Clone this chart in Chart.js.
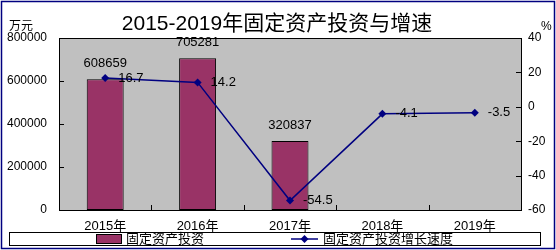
<!DOCTYPE html>
<html>
<head>
<meta charset="utf-8">
<script src="https://cdn.jsdelivr.net/npm/chart.js@4/dist/chart.umd.min.js"></script>
<style>
  html, body { margin: 0; padding: 0; background: #fff; }
  #wrap { width: 556px; height: 250px; position: relative; }
</style>
</head>
<body>
<div id="wrap"><canvas id="c"></canvas></div>
<script>
/* ---------- data ---------- */
const years = ['2015年', '2016年', '2017年', '2018年', '2019年'];
const investment = [608659, 705281, 320837, null, null];   // 万元
const growth = [16.7, 14.2, -54.5, -4.1, -3.5];           // %
const leftTicks = [0, 200000, 400000, 600000, 800000];
const rightTicks = [-60, -40, -20, 0, 20, 40];

const TITLE = '2015-2019年固定资产投资与增速';
const BAR_NAME = '固定资产投资';
const LINE_NAME = '固定资产投资增长速度';

const BAR_COLOR = '#993366';
const LINE_COLOR = '#000080';
const FONT = '"Liberation Sans", Arial, "Noto Sans CJK SC", sans-serif';

/* ---------- custom drawing: background, ticks, labels, legend ---------- */
const decor = {
  id: 'decor',
  beforeDraw(chart) {
    const { ctx, chartArea: a } = chart;
    ctx.save();
    ctx.fillStyle = '#fff';
    ctx.fillRect(0, 0, chart.width, chart.height);
    ctx.fillStyle = '#C0C0C0';
    ctx.fillRect(a.left, a.top, a.right - a.left, a.bottom - a.top);
    ctx.restore();
  },
  beforeDatasetsDraw(chart) {
    const { ctx, chartArea: a, scales } = chart;
    ctx.save();
    ctx.strokeStyle = '#000';
    ctx.lineWidth = 1;
    ctx.strokeRect(Math.round(a.left) + 0.5, Math.round(a.top) + 0.5,
      Math.round(a.right - a.left), Math.round(a.bottom - a.top));
    ctx.beginPath();
    // inward ticks on the value axes
    scales.y.ticks.forEach(t => {
      const y = Math.round(scales.y.getPixelForValue(t.value)) + 0.5;
      ctx.moveTo(a.left, y); ctx.lineTo(a.left + 5, y);
    });
    scales.y1.ticks.forEach(t => {
      const y = Math.round(scales.y1.getPixelForValue(t.value)) + 0.5;
      ctx.moveTo(a.right, y); ctx.lineTo(a.right - 5, y);
    });
    // inward ticks between categories
    for (let i = 0; i < years.length - 1; i++) {
      const x = Math.round((scales.x.getPixelForValue(i) + scales.x.getPixelForValue(i + 1)) / 2) + 0.5;
      ctx.moveTo(x, a.bottom); ctx.lineTo(x, a.bottom - 5);
    }
    ctx.stroke();
    ctx.restore();
  },
  afterDatasetsDraw(chart) {
    const { ctx } = chart;
    ctx.save();
    ctx.fillStyle = '#000';
    ctx.font = '13px ' + FONT;
    // bar value labels
    ctx.textAlign = 'center';
    ctx.textBaseline = 'middle';
    chart.getDatasetMeta(0).data.forEach((bar, i) => {
      if (investment[i] == null) return;
      ctx.fillText(String(investment[i]), bar.x, bar.y - 16);
    });
    // line value labels
    ctx.textAlign = 'left';
    chart.getDatasetMeta(1).data.forEach((pt, i) => {
      ctx.fillText(growth[i].toFixed(1), pt.x + 13, pt.y);
    });
    ctx.restore();
  },
  afterDraw(chart) {
    const { ctx } = chart;
    ctx.save();
    // title
    ctx.fillStyle = '#000';
    ctx.textAlign = 'center';
    ctx.textBaseline = 'middle';
    ctx.font = '21px ' + FONT;
    ctx.fillText(TITLE, 277, 24);
    // unit labels
    ctx.font = '12px ' + FONT;
    ctx.textAlign = 'left';
    ctx.fillText('万元', 9, 27);
    ctx.fillText('%', 541, 27);
    // legend box
    ctx.fillStyle = '#fff';
    ctx.fillRect(9, 232, 531, 13);
    ctx.strokeStyle = '#000';
    ctx.lineWidth = 1;
    ctx.strokeRect(9.5, 232.5, 531, 13);
    ctx.fillStyle = BAR_COLOR;
    ctx.fillRect(96, 234, 25, 9);
    ctx.strokeRect(96.5, 234.5, 25, 9);
    ctx.strokeStyle = LINE_COLOR;
    ctx.lineWidth = 1.5;
    ctx.beginPath();
    ctx.moveTo(291, 239); ctx.lineTo(318, 239);
    ctx.stroke();
    ctx.fillStyle = LINE_COLOR;
    ctx.beginPath();
    ctx.moveTo(304.5, 235); ctx.lineTo(308.5, 239); ctx.lineTo(304.5, 243); ctx.lineTo(300.5, 239);
    ctx.closePath(); ctx.fill();
    ctx.fillStyle = '#000';
    ctx.font = '13px ' + FONT;
    ctx.textBaseline = 'middle';
    ctx.fillText(BAR_NAME, 126, 239);
    ctx.fillText(LINE_NAME, 323, 239);
    // outer frame
    ctx.strokeRect(1.5, 1.5, 553, 247);
    ctx.restore();
  }
};

new Chart(document.getElementById('c'), {
  type: 'bar',
  data: {
    labels: years,
    datasets: [
      {
        type: 'bar',
        label: BAR_NAME,
        data: investment,
        yAxisID: 'y',
        backgroundColor: BAR_COLOR,
        borderColor: '#000',
        borderWidth: 1,
        borderSkipped: false,
        categoryPercentage: 1,
        barPercentage: 0.4,
        order: 1
      },
      {
        type: 'line',
        label: LINE_NAME,
        data: growth,
        yAxisID: 'y1',
        borderColor: LINE_COLOR,
        backgroundColor: LINE_COLOR,
        borderWidth: 1.5,
        pointStyle: 'rectRot',
        pointRadius: 4,
        pointBorderWidth: 0,
        tension: 0,
        order: 0
      }
    ]
  },
  options: {
    responsive: true,
    maintainAspectRatio: false,
    animation: false,
    layout: { padding: { top: 38, left: 0, right: 0, bottom: 0 } },
    plugins: {
      legend: { display: false },
      title: { display: false },
      tooltip: { enabled: false }
    },
    scales: {
      x: {
        offset: true,
        grid: { display: false, drawTicks: false },
        border: { display: false },
        ticks: { color: '#000', font: { size: 13, family: FONT }, padding: 9, maxRotation: 0 },
        afterFit: s => { s.height = 40; }
      },
      y: {
        position: 'left',
        min: 0, max: 800000,
        afterBuildTicks: s => { s.ticks = leftTicks.map(v => ({ value: v })); },
        grid: { display: false, drawTicks: false },
        border: { display: false },
        ticks: { color: '#000', font: { size: 12, family: FONT }, padding: 12, callback: v => String(v) },
        afterFit: s => { s.width = 59; }
      },
      y1: {
        position: 'right',
        min: -60, max: 40,
        afterBuildTicks: s => { s.ticks = rightTicks.map(v => ({ value: v })); },
        grid: { display: false, drawTicks: false },
        border: { display: false },
        ticks: { color: '#000', font: { size: 12, family: FONT }, padding: 7, callback: v => String(v) },
        afterFit: s => { s.width = 35; }
      }
    }
  },
  plugins: [decor]
});
</script>
</body>
</html>
